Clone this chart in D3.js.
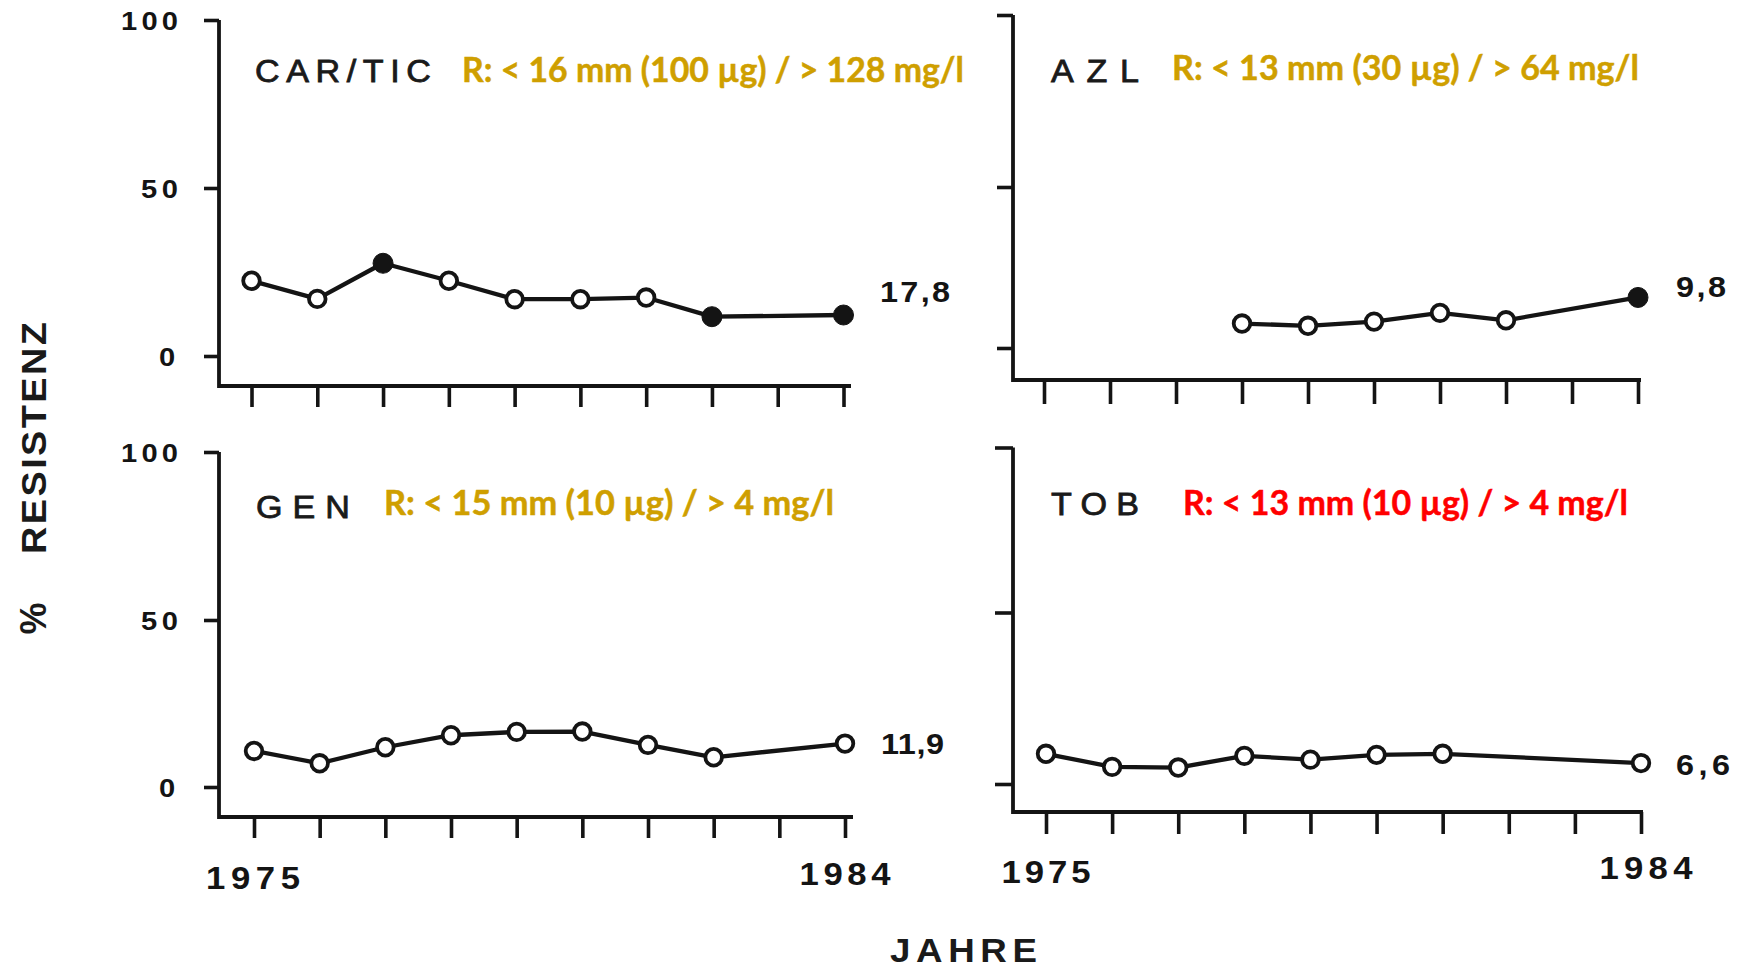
<!DOCTYPE html>
<html>
<head>
<meta charset="utf-8">
<script src="https://cdn.jsdelivr.net/npm/d3@7"></script>
<style>
  html, body { margin: 0; padding: 0; background: #ffffff; }
  svg { display: block; }
</style>
</head>
<body>
<svg id="chart" width="1746" height="971"></svg>
<script>
// ---------------- DATA ----------------
const years = [1975, 1976, 1977, 1978, 1979, 1980, 1981, 1982, 1983, 1984];
const yTickValues = [0, 50, 100];
const yTickLabels = ["0", "50", "100"];
const xEndLabels = ["1975", "1984"];

const panelNames = ["CAR/TIC", "AZL", "GEN", "TOB"];
const criteria = [
  "R: < 16 mm (100 µg) / > 128 mg/l",
  "R: < 13 mm (30 µg) / > 64 mg/l",
  "R: < 15 mm (10 µg) / > 4 mg/l",
  "R: < 13 mm (10 µg) / > 4 mg/l"
];
const endValues = ["17,8", "9,8", "11,9", "6,6"];

// % resistance per year (null = no value)
const carticValues = [22.4, 17.0, 27.6, 22.4, 16.9, 16.9, 17.4, 11.7, null, 12.2];
const carticFilled = [false, false, true, false, false, false, false, true, false, true];
const azlValues    = [null, null, null, 7.6, 6.9, 8.2, 10.9, 8.6, null, 15.7];
const azlFilled    = [false, false, false, false, false, false, false, false, false, true];
const genValues    = [10.8, 7.1, 11.9, 15.5, 16.5, 16.6, 12.6, 8.9, null, 13.0];
const genFilled    = [false, false, false, false, false, false, false, false, false, false];
const tobValues    = [8.8, 5.0, 4.8, 8.2, 7.1, 8.5, 8.8, null, null, 6.1];
const tobFilled    = [false, false, false, false, false, false, false, false, false, false];

const seriesValues = [carticValues, azlValues, genValues, tobValues];
const seriesFilled = [carticFilled, azlFilled, genFilled, tobFilled];

// ---------------- LAYOUT ----------------
const GOLD = "#CF9F00";
const RED = "#FF0000";
const critColors = [GOLD, GOLD, GOLD, RED];
const INK = "#141414";

const layouts = [
  { yx: 219, yr: [356, 188, 20], top: 20, xy: 386, xr: [251.5, 843.5], xEnd: 851, tick: 21, ytick: 15, yLabels: true,
    name: [255, 82, 176], crit: [462, 82, 502], end: [880, 302, 70], years: null },
  { yx: 1013, yr: [348, 187, 15], top: 15, xy: 380, xr: [1044, 1638], xEnd: 1641, tick: 24, ytick: 16, yLabels: false,
    name: [1051, 82, 88], crit: [1172, 80, 467], end: [1676, 297, 50], years: null },
  { yx: 219, yr: [787, 620, 452], top: 452, xy: 817, xr: [254, 845], xEnd: 853, tick: 21, ytick: 15, yLabels: true,
    name: [256, 518, 94], crit: [384, 515, 450], end: [881, 754, 63], years: [[253, 889, 94], [845, 885, 91]] },
  { yx: 1013, yr: [784, 612.5, 447.5], top: 447.5, xy: 812, xr: [1046, 1641], xEnd: 1643, tick: 22, ytick: 18, yLabels: false,
    name: [1051, 515, 88], crit: [1183, 515, 445], end: [1676, 775, 54], years: [[1046, 883, 89], [1646, 879, 93]] }
];
const yLabelWidths = [19, 37, 57];

const svg = d3.select("#chart");
const FONT = "'Liberation Sans', Arial, Helvetica, sans-serif";
const CRIT_FONT = "Lato, 'Open Sans', sans-serif";

// letter-spaced, slightly extended text fitted to a given ink width
function spacedText(parent, str, x, y, width, size, weight, sx, opts = {}) {
  const t = parent.append("text")
    .attr("fill", opts.fill || INK)
    .style("font-family", FONT).style("font-size", size + "px").style("font-weight", weight)
    .text(str);
  if (opts.stroke) t.attr("stroke", opts.fill || INK).attr("stroke-width", opts.stroke);
  const nat = t.node().getComputedTextLength();
  const n = str.length;
  const ls = n > 1 ? Math.max(0, (width / sx - nat) / (n - 1)) : 0;
  t.style("letter-spacing", ls + "px");
  let tx = x;
  if (opts.anchor === "middle") tx = x - width / 2;
  if (opts.anchor === "end") tx = x - width;
  if (opts.rotate) {
    t.attr("transform", `translate(${x},${y}) rotate(${opts.rotate}) scale(${sx},1) translate(${-width / 2 / sx},0)`)
      .attr("dy", "0.36em");
  } else {
    t.attr("transform", `translate(${tx},${y}) scale(${sx},1)`);
  }
  return t;
}

layouts.forEach((L, i) => {
  const g = svg.append("g");
  const x = d3.scaleLinear().domain([years[0], years[years.length - 1]]).range(L.xr);
  const y = d3.scaleLinear().domain(yTickValues).range(L.yr);

  // axes frame
  g.append("path")
    .attr("d", d3.line()([[L.yx, L.top], [L.yx, L.xy], [L.xEnd, L.xy]]))
    .attr("fill", "none").attr("stroke", INK).attr("stroke-width", 3.8)
    .attr("stroke-linejoin", "miter");

  // y axis ticks
  const yAxis = d3.axisLeft(y).tickValues(yTickValues).tickSize(L.ytick).tickFormat("");
  const ya = g.append("g").attr("transform", `translate(${L.yx},0)`).call(yAxis);
  ya.select(".domain").remove();
  ya.selectAll(".tick line").attr("stroke", INK).attr("stroke-width", 3.6);
  if (L.yLabels) {
    yTickValues.forEach((v, k) => {
      spacedText(g, yTickLabels[k], 178, y(v) + 9.5, yLabelWidths[k], 26, "bold", 1.12, { anchor: "end" });
    });
  }

  // x axis ticks
  const xAxis = d3.axisBottom(x).tickValues(years).tickSize(L.tick).tickFormat("");
  const xa = g.append("g").attr("transform", `translate(0,${L.xy})`).call(xAxis);
  xa.select(".domain").remove();
  xa.selectAll(".tick line").attr("stroke", INK).attr("stroke-width", 3.6);

  // year end labels
  if (L.years) {
    L.years.forEach((p, k) => {
      spacedText(g, xEndLabels[k], p[0], p[1], p[2], 31, "bold", 1.12, { anchor: "middle" });
    });
  }

  // data
  const pts = years.map((yr, k) => ({ year: yr, v: seriesValues[i][k], f: seriesFilled[i][k] }))
    .filter(d => d.v !== null);

  g.append("path")
    .datum(pts)
    .attr("d", d3.line().x(d => x(d.year)).y(d => y(d.v)))
    .attr("fill", "none").attr("stroke", INK).attr("stroke-width", 4.3)
    .attr("stroke-linejoin", "round");

  g.selectAll("circle.pt").data(pts).join("circle")
    .attr("class", "pt")
    .attr("cx", d => x(d.year)).attr("cy", d => y(d.v))
    .attr("r", d => d.f ? 10 : 8.3)
    .attr("fill", d => d.f ? INK : "#fff")
    .attr("stroke", INK).attr("stroke-width", d => d.f ? 1 : 3.8);

  // panel name
  spacedText(g, panelNames[i], L.name[0], L.name[1], L.name[2], 31, "normal", 1.1,
    { fill: "#1a1a1a", stroke: 0.8 });

  // resistance criterion
  g.append("text")
    .attr("x", L.crit[0]).attr("y", L.crit[1])
    .attr("textLength", L.crit[2]).attr("lengthAdjust", "spacingAndGlyphs")
    .attr("fill", critColors[i])
    .attr("stroke", critColors[i]).attr("stroke-width", 0.5)
    .style("font-family", CRIT_FONT).style("font-size", "35px").style("font-weight", "bold")
    .text(criteria[i]);

  // end value label
  spacedText(g, endValues[i], L.end[0], L.end[1], L.end[2], 30, "bold", 1.08);
});

// axis titles
spacedText(svg, "RESISTENZ", 33, 438, 232, 35, "bold", 1.08, { rotate: -90, fill: "#1a1a1a" });
spacedText(svg, "%", 33, 621, 27, 36, "bold", 1.0, { rotate: -90, fill: "#1a1a1a" });
spacedText(svg, "JAHRE", 890, 962, 147, 34, "bold", 1.08, { fill: "#1a1a1a" });
</script>
</body>
</html>
